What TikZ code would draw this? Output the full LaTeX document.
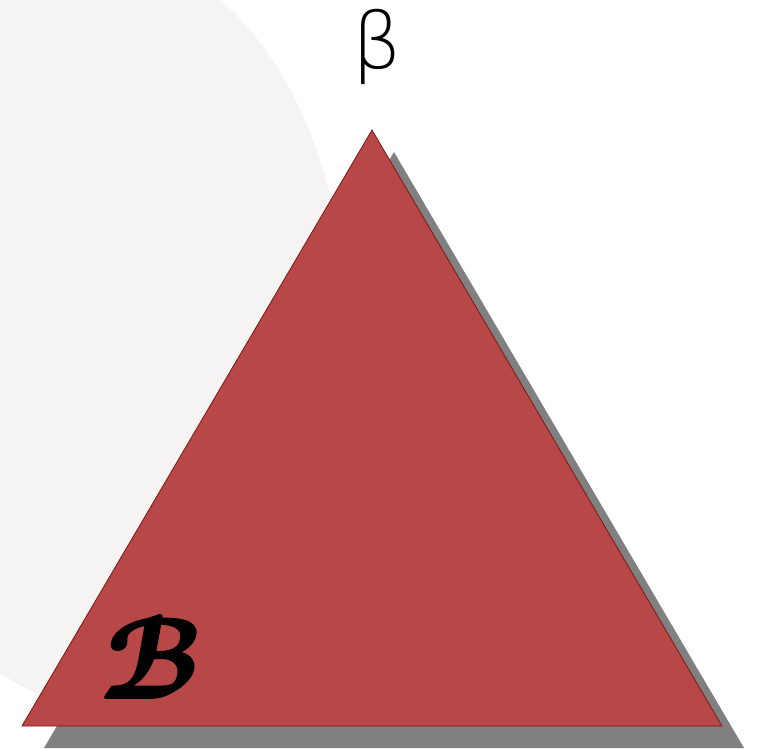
\documentclass[tikz,border=0pt]{standalone}
\usepackage{fontspec}
\newfontfamily\betafont{DejaVu Sans ExtraLight}
\font\eusbfont=eusb10 at 112pt
\definecolor{blob}{RGB}{246,243,243}
\definecolor{tri}{RGB}{184,72,72}
\definecolor{triedge}{RGB}{130,20,20}
\definecolor{shadowgray}{RGB}{128,128,128}
\newcommand{\heavytext}[1]{\special{pdf:literal direct 2 Tr 3.4 w 1 j}#1\special{pdf:literal direct 0 Tr 1 w 0 j}}
\tikzset{
  tribox/.style={fill=tri, draw=triedge, line width=0.8pt, line join=miter},
  shadowbox/.style={fill=shadowgray},
  betalabel/.style={anchor=base, inner sep=0pt, font=\fontsize{78}{78}\selectfont\betafont},
  scriptlabel/.style={anchor=base, inner sep=0pt, font=\eusbfont, xslant=0.18}
}
\begin{document}
\begin{tikzpicture}[x=1pt,y=-1pt]
\useasboundingbox (0,0) rectangle (760,748);
\clip (0,0) rectangle (760,748);
\fill[blob] (102,330) ellipse [x radius=244, y radius=377];
\coordinate (A) at (372,130);
\coordinate (L) at (22,726);
\coordinate (R) at (722,726);
\fill[shadowbox] ([shift={(22,22)}]A) -- ([shift={(22,22)}]L) -- ([shift={(22,22)}]R) -- cycle;
\draw[tribox] (A) -- (L) -- (R) -- cycle;
\node[betalabel] (beta) at (377,68) {β};
\node[scriptlabel] (B) at (147,697) {\heavytext{B}};
\end{tikzpicture}
\end{document}
